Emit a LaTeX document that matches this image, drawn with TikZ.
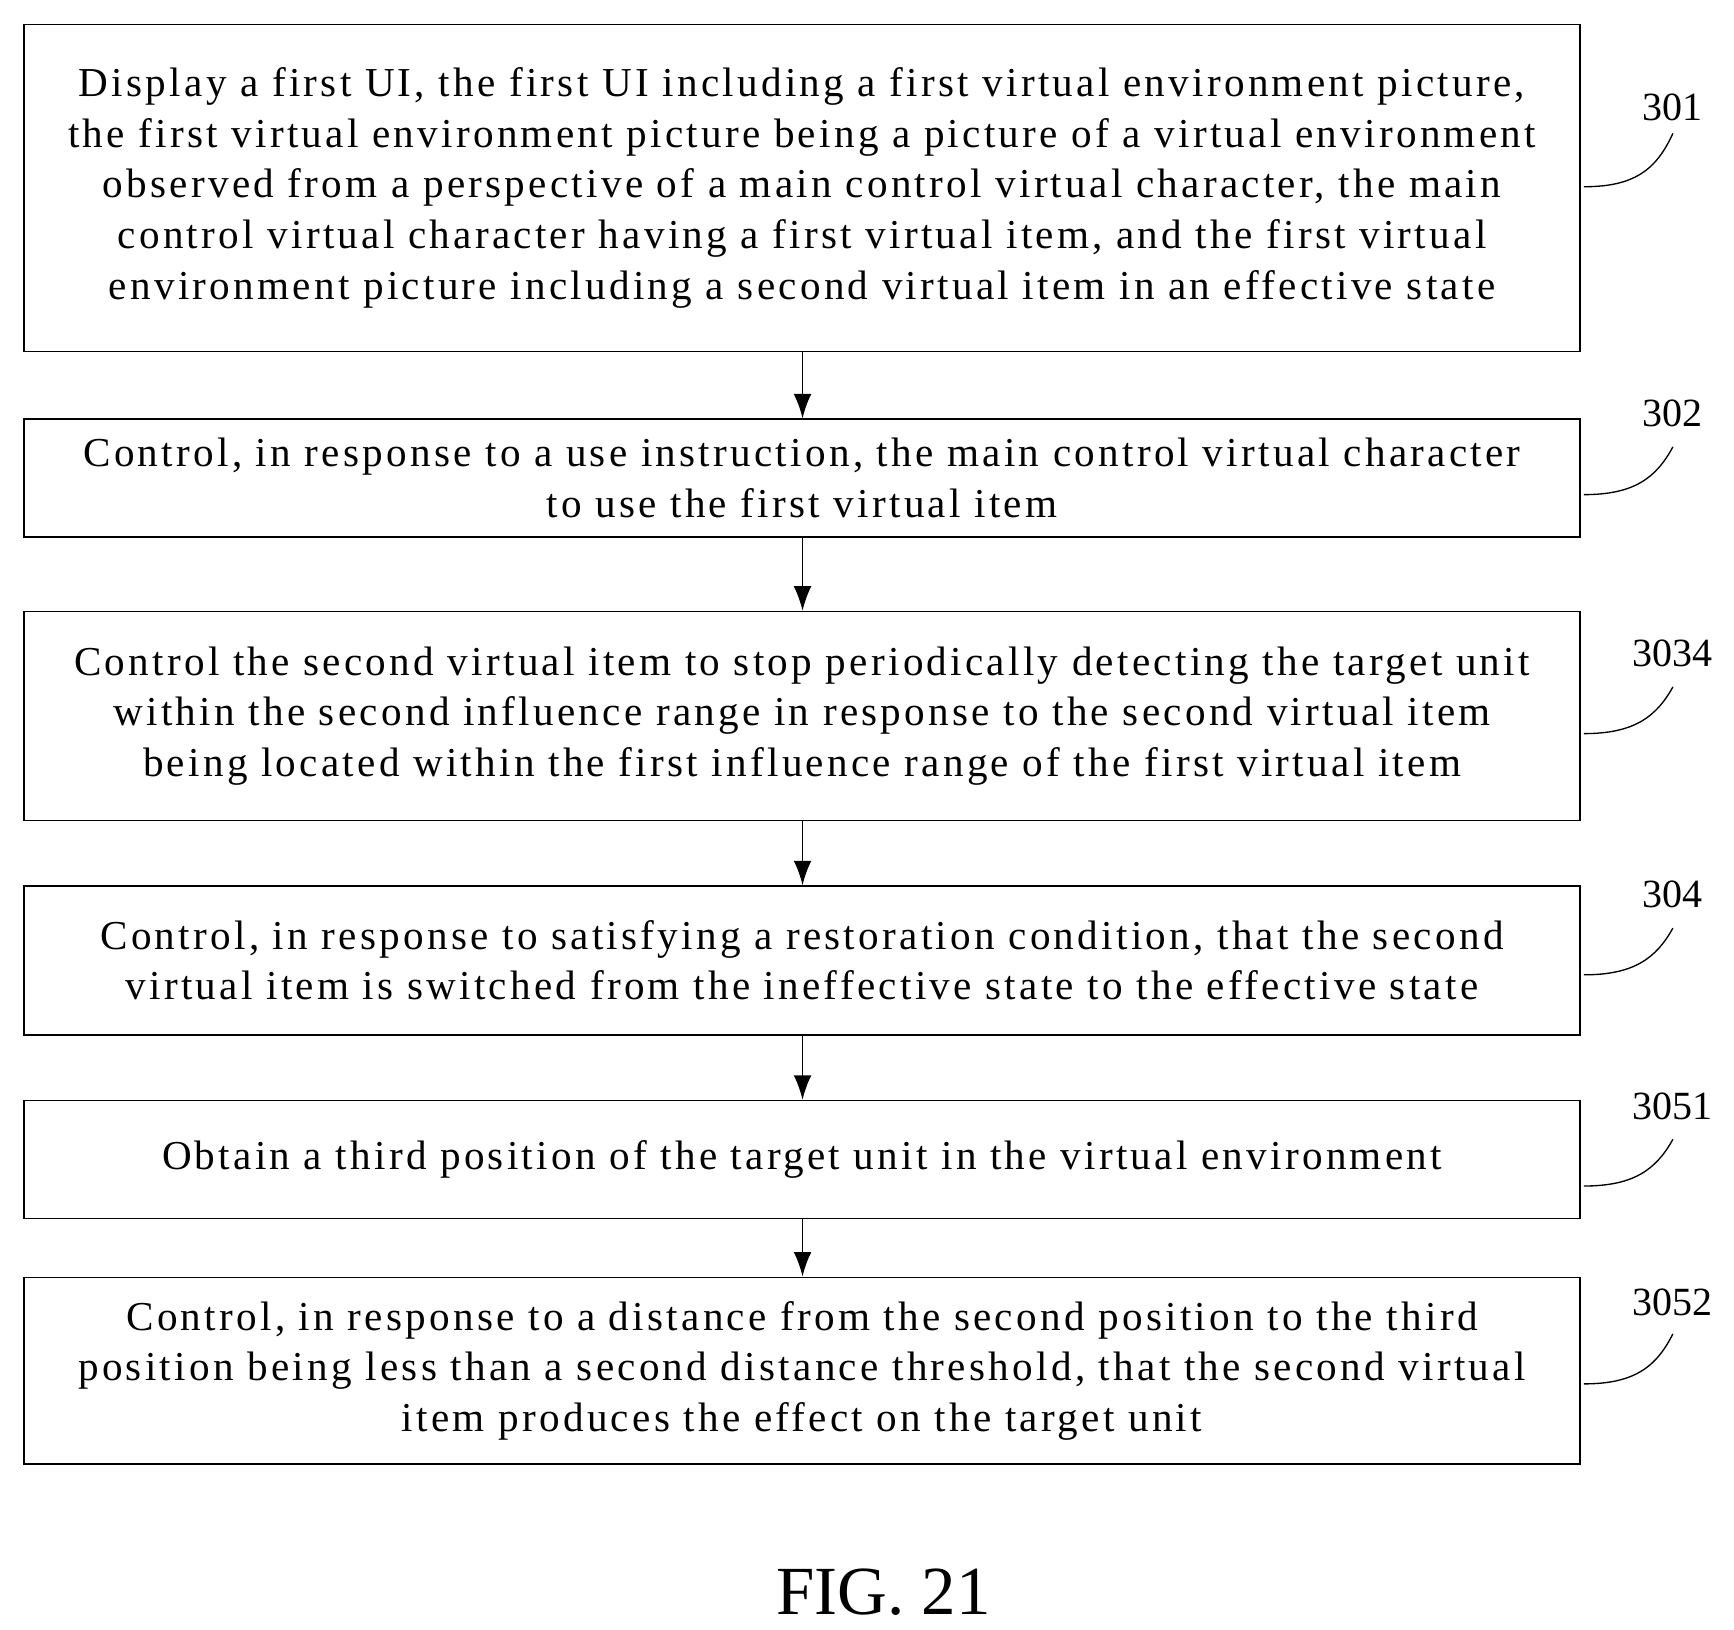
\documentclass[tikz,border=0pt]{standalone}
\usepackage{fontspec}
\setmainfont{Liberation Serif}
\usetikzlibrary{arrows.meta}
\begin{document}
\begin{tikzpicture}[x=1pt,y=-1pt,
 box/.style={draw,line width=1.2pt,minimum width=1400pt,align=center,font=\fontsize{37}{45.5}\selectfont\addfontfeature{LetterSpace=8},inner sep=0pt},
 arr/.style={-{Latex[length=22pt,width=16pt]},line width=1.5pt},
 lab/.style={font=\fontsize{36}{40}\selectfont},
 lead/.style={line width=1.2pt}]
\useasboundingbox (0,0) rectangle (1560,1466);
\node[box,minimum height=294pt] (b1) at (721.5,169) {Display a first UI, the first UI including a first virtual environment picture,\\the first virtual environment picture being a picture of a virtual environment\\observed from a perspective of a main control virtual character, the main\\control virtual character having a first virtual item, and the first virtual\\environment picture including a second virtual item in an effective state};
\node[box,minimum height=106pt] (b2) at (721.5,430) {Control, in response to a use instruction, the main control virtual character\\to use the first virtual item};
\node[box,minimum height=188pt] (b3) at (721.5,644) {Control the second virtual item to stop periodically detecting the target unit\\within the second influence range in response to the second virtual item\\being located within the first influence range of the first virtual item};
\node[box,minimum height=134pt] (b4) at (721.5,864) {Control, in response to satisfying a restoration condition, that the second\\virtual item is switched from the ineffective state to the effective state};
\node[box,minimum height=106pt] (b5) at (721.5,1043) {Obtain a third position of the target unit in the virtual environment};
\node[box,minimum height=168pt] (b6) at (721.5,1233) {Control, in response to a distance from the second position to the third\\position being less than a second distance threshold, that the second virtual\\item produces the effect on the target unit};
\draw[arr] (b1.south -| 722,0) -- (b2.north -| 722,0);
\draw[arr] (b2.south -| 722,0) -- (b3.north -| 722,0);
\draw[arr] (b3.south -| 722,0) -- (b4.north -| 722,0);
\draw[arr] (b4.south -| 722,0) -- (b5.north -| 722,0);
\draw[arr] (b5.south -| 722,0) -- (b6.north -| 722,0);
\node[lab] (l1) at (1505,97) {301};
\node[lab] (l2) at (1505,372) {302};
\node[lab] (l3) at (1505,588) {3034};
\node[lab] (l4) at (1505,805) {304};
\node[lab] (l5) at (1505,995) {3051};
\node[lab] (l6) at (1505,1172) {3052};
\foreach \b/\y/\t in {1/168/120,2/445/402,3/660/618,4/877/835,5/1067/1025,6/1245/1200}{
 \coordinate (s\b) at (1425,\y);
 \coordinate (e\b) at (1505,\t);
 \draw[lead] (s\b) .. controls (1470,\y) and (1490,\y-15) .. (e\b);
}
\node[font=\fontsize{62}{70}\selectfont] (fig) at (795,1432) {FIG. 21};
\end{tikzpicture}
\end{document}
